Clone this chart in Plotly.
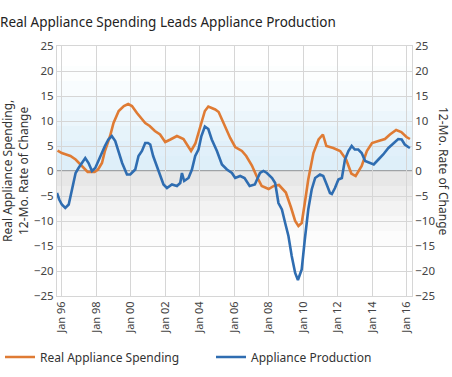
import plotly.graph_objects as go

# ---- data (decimal years, 12-month % change) ----
spend_t = [1995.75, 1996.0, 1996.25, 1996.5, 1996.8, 1997.07, 1997.36, 1997.5, 1997.9, 1998.1,
           1998.33, 1998.5, 1998.8, 1999.0, 1999.3, 1999.6, 1999.85, 2000.07, 2000.36, 2000.65,
           2000.84, 2001.1, 2001.4, 2001.7, 2002.0, 2002.3, 2002.68, 2003.06, 2003.3, 2003.5,
           2003.75, 2004.0, 2004.3, 2004.5, 2004.9, 2005.1, 2005.4, 2005.77, 2006.06, 2006.45,
           2006.7, 2007.03, 2007.3, 2007.6, 2008.0, 2008.3, 2008.6, 2009.0, 2009.3, 2009.54,
           2009.73, 2009.92, 2010.1, 2010.3, 2010.6, 2010.9, 2011.15, 2011.35, 2011.75, 2012.15,
           2012.5, 2012.8, 2013.05, 2013.4, 2013.7, 2014.0, 2014.37, 2014.75, 2015.04, 2015.4,
           2015.7, 2016.0, 2016.2]
spend_v = [4.1, 3.6, 3.3, 3.0, 2.3, 1.3, 0.3, -0.2, -0.2, 0.3,
           1.6, 4.0, 7.0, 9.6, 12.0, 13.0, 13.4, 13.0, 11.6, 10.3,
           9.6, 9.0, 8.0, 7.3, 5.8, 6.3, 7.0, 6.4, 5.0, 4.0,
           5.5, 8.3, 12.0, 12.9, 12.3, 11.8, 9.4, 6.6, 4.8, 4.0,
           3.0, 1.1, -1.0, -3.0, -3.6, -3.0, -2.8, -4.3, -7.3, -10.0,
           -11.0, -10.4, -6.4, -1.7, 3.6, 6.3, 7.3, 5.0, 4.6, 4.0,
           2.3, -0.5, -1.0, 1.0, 4.0, 5.6, 6.0, 6.4, 7.3, 8.2,
           7.8, 6.8, 6.4]

prod_t = [1995.72, 1995.85, 1996.0, 1996.2, 1996.4, 1996.6, 1996.8, 1996.97, 1997.17, 1997.36,
          1997.55, 1997.75, 1997.94, 1998.15, 1998.33, 1998.5, 1998.7, 1998.9, 1999.1, 1999.3,
          1999.5, 1999.78, 1999.97, 2000.26, 2000.45, 2000.65, 2000.84, 2001.0, 2001.13, 2001.3,
          2001.6, 2001.9, 2002.1, 2002.39, 2002.68, 2002.87, 2002.97, 2003.1, 2003.35, 2003.55,
          2003.74, 2003.93, 2004.1, 2004.3, 2004.5, 2004.7, 2005.0, 2005.29, 2005.58, 2005.87,
          2006.06, 2006.35, 2006.6, 2006.9, 2007.2, 2007.5, 2007.7, 2007.9, 2008.2, 2008.38,
          2008.57, 2008.77, 2008.96, 2009.15, 2009.34, 2009.54, 2009.7, 2009.92, 2010.1, 2010.3,
          2010.5, 2010.7, 2010.98, 2011.17, 2011.37, 2011.56, 2011.67, 2011.85, 2012.05, 2012.25,
          2012.43, 2012.63, 2012.82, 2013.0, 2013.2, 2013.4, 2013.6, 2013.9, 2014.1, 2014.37,
          2014.65, 2014.95, 2015.24, 2015.52, 2015.72, 2015.9, 2016.1, 2016.2]
prod_v = [-4.4, -5.7, -6.7, -7.4, -6.7, -3.7, -0.4, 0.6, 1.6, 2.6,
          1.6, 0.0, 0.6, 2.3, 3.6, 5.0, 6.3, 7.0, 6.0, 3.6,
          1.6, -0.7, -0.7, 0.3, 3.0, 4.0, 5.6, 5.6, 5.3, 3.0,
          0.3, -2.7, -3.4, -2.7, -3.0, -2.4, -0.4, -2.0, -1.4, 0.3,
          3.0, 4.3, 7.0, 8.9, 8.4, 6.3, 4.0, 1.3, 0.3, -0.4,
          -1.4, -1.0, -1.4, -3.0, -2.7, -0.4, 0.0, -0.4, -1.4, -2.4,
          -6.4, -7.7, -10.4, -13.0, -17.0, -20.4, -21.8, -19.7, -13.7, -7.7,
          -3.7, -1.4, -0.7, -1.0, -2.7, -4.4, -4.6, -3.4, -1.7, -1.4,
          2.3, 4.0, 5.0, 4.3, 4.3, 3.6, 2.0, 1.5, 1.3, 2.3,
          3.3, 4.6, 5.6, 6.4, 6.3, 5.3, 4.8, 4.6]

x_tickvals = [1996, 1998, 2000, 2002, 2004, 2006, 2008, 2010, 2012, 2014, 2016]
x_ticktext = ["Jan 96", "Jan 98", "Jan 00", "Jan 02", "Jan 04", "Jan 06",
              "Jan 08", "Jan 10", "Jan 12", "Jan 14", "Jan 16"]
y_tickvals = [-25, -20, -15, -10, -5, 0, 5, 10, 15, 20, 25]

ORANGE = "#DF7B34"
BLUE = "#2F6DB1"
FONT = "Noto Sans"

fig = go.Figure()
fig.add_trace(go.Scatter(x=spend_t, y=spend_v, name="Real Appliance Spending",
                         mode="lines", line=dict(color=ORANGE, width=2.6), legend="legend"))
fig.add_trace(go.Scatter(x=prod_t, y=prod_v, name="Appliance Production", yaxis="y2",
                         mode="lines", line=dict(color=BLUE, width=2.6), legend="legend2"))

# background gradient bands
shapes = []
blue_steps = [(0, 3, 0.6), (3, 6, 0.55), (6, 9, 0.45), (9, 12, 0.35), (12, 15, 0.24), (15, 18, 0.13), (18, 21, 0.05)]
for y0, y1, op in blue_steps:
    shapes.append(dict(type="rect", xref="paper", yref="y", x0=0, x1=1, y0=y0, y1=y1,
                       fillcolor="rgba(200,228,245,%.2f)" % op, line=dict(width=0), layer="below"))
gray_steps = [(0, -3, 0.6), (-3, -6, 0.45), (-6, -9, 0.3), (-9, -12, 0.18), (-12, -15, 0.08)]
for y0, y1, op in gray_steps:
    shapes.append(dict(type="rect", xref="paper", yref="y", x0=0, x1=1, y0=y0, y1=y1,
                       fillcolor="rgba(215,215,215,%.2f)" % op, line=dict(width=0), layer="below"))

axis_common = dict(range=[-25, 25], tickvals=y_tickvals, showgrid=True, gridcolor="#d6d6d6",
                   gridwidth=1, zeroline=False, ticks="", automargin=False,
                   tickfont=dict(family=FONT, size=11.5, color="#444"), showline=True,
                   linecolor="#d6d6d6", linewidth=1)

legend_common = dict(orientation="h", xref="container", yref="container", y=1 - 357 / 377,
                     yanchor="middle", xanchor="left", itemwidth=30,
                     font=dict(family=FONT, size=12, color="#333"), bgcolor="rgba(0,0,0,0)")

fig.update_layout(
    width=452, height=377,
    margin=dict(l=57, r=40, t=46, b=81),
    paper_bgcolor="white", plot_bgcolor="white",
    font=dict(family=FONT, color="#333"),
    title=dict(text="Real Appliance Spending Leads Appliance Production",
               x=0, xanchor="left", xref="container", pad=dict(l=0, t=0, b=0, r=0),
               y=1 - 22 / 377, yref="container", yanchor="middle",
               font=dict(family=FONT, size=13.5, color="#222")),
    xaxis=dict(range=[1995.72, 2016.32], tickvals=x_tickvals, ticktext=x_ticktext,
               tickangle=-90, showgrid=True, gridcolor="#d6d6d6", zeroline=False,
               ticks="", showline=True, linecolor="#d6d6d6", mirror=True, automargin=False,
               tickfont=dict(family=FONT, size=11, color="#444")),
    yaxis=dict(**axis_common),
    yaxis2=dict(overlaying="y", side="right", **axis_common),
    shapes=shapes + [dict(type="line", xref="paper", yref="y", x0=0, x1=1, y0=0, y1=0,
                          line=dict(color="#8a8a8a", width=1.3), layer="below")],
    showlegend=True,
    legend=dict(x=0.0, **legend_common),
    legend2=dict(x=211 / 452, **legend_common),
    annotations=[
        dict(text="Real Appliance Spending,<br>12-Mo. Rate of Change", textangle=-90,
             xref="paper", yref="paper", x=0, y=0.5, xshift=-42, showarrow=False,
             xanchor="center", yanchor="middle",
             font=dict(family=FONT, size=12, color="#333")),
        dict(text="12-Mo. Rate of Change", textangle=90,
             xref="paper", yref="paper", x=1, y=0.5, xshift=32, showarrow=False,
             xanchor="center", yanchor="middle",
             font=dict(family=FONT, size=12, color="#333")),
    ],
)

fig.write_html("out.html", config={"displayModeBar": False},
               post_script="document.body.style.margin='0px';")
